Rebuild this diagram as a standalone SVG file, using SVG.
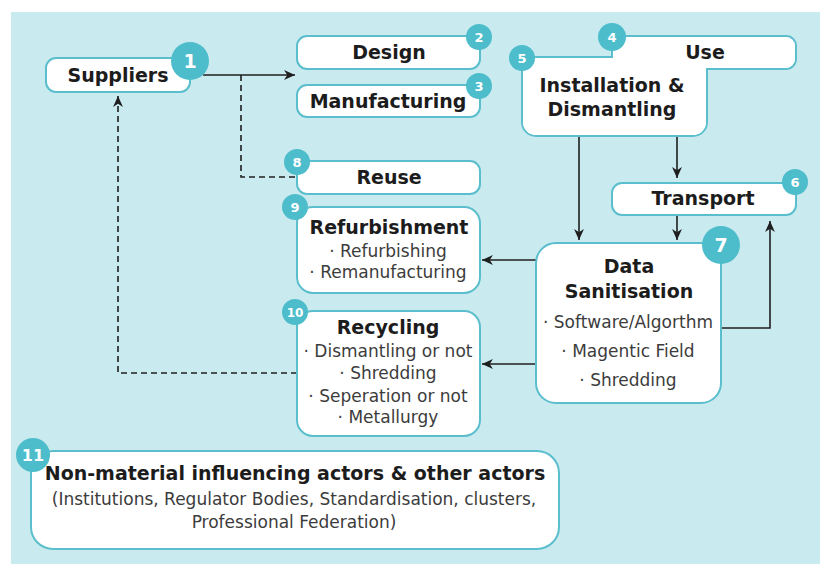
<svg xmlns="http://www.w3.org/2000/svg" width="820" height="564" viewBox="0 0 820 564">
  <style>
    .box { fill: #ffffff; stroke: #5bbecc; stroke-width: 2; }
    .edge { fill: #ffffff; stroke: none; }
    .badge { fill: #4dbdcb; }
    .badge-t { fill: #ffffff; font-family: "DejaVu Sans", "Liberation Sans", sans-serif; font-weight: 700; text-anchor: middle; }
    .title { fill: #1c1c1c; font-family: "DejaVu Sans", "Liberation Sans", sans-serif; font-weight: 700; font-size: 19px; text-anchor: middle; }
    .item { fill: #3c3c3c; font-family: "DejaVu Sans", "Liberation Sans", sans-serif; font-weight: 400; font-size: 17px; text-anchor: middle; }
    .link { fill: none; stroke: #1f1f1f; stroke-width: 1.6; }
    .dashed { stroke-dasharray: 6 4; }
  </style>
  <defs>
    <marker id="arrow" viewBox="0 0 10 10" refX="10" refY="5" markerWidth="11" markerHeight="11" markerUnits="userSpaceOnUse" orient="auto">
      <path d="M0,0.5 L10,5 L0,9.5 L3,5 z" fill="#1f1f1f"/>
    </marker>
  </defs>

  <!-- panel -->
  <rect x="11" y="12" width="809" height="552" fill="#c9eaef"/>

  <!-- connectors -->
  <g id="connectors">
    <path class="link" d="M203,75 H295" marker-end="url(#arrow)"/>
    <path class="link dashed" d="M241,75 V177 H297"/>
    <path class="link dashed" d="M297,373 H118 V96" marker-end="url(#arrow)"/>
    <path class="link" d="M579,136 V240" marker-end="url(#arrow)"/>
    <path class="link" d="M677,136 V178" marker-end="url(#arrow)"/>
    <path class="link" d="M677,215 V240" marker-end="url(#arrow)"/>
    <path class="link" d="M721,328 H770 V221" marker-end="url(#arrow)"/>
    <path class="link" d="M536,260 H482" marker-end="url(#arrow)"/>
    <path class="link" d="M536,364 H482" marker-end="url(#arrow)"/>
  </g>

  <!-- 1 Suppliers -->
  <g id="suppliers">
    <rect class="box" x="46" y="58" width="144" height="34" rx="10"/>
    <text class="title" x="118" y="82">Suppliers</text>
    <circle class="badge" cx="190" cy="61" r="19"/>
    <text class="badge-t" x="190" y="68" font-size="19">1</text>
  </g>

  <!-- 2 Design -->
  <g id="design">
    <rect class="box" x="297" y="36" width="183" height="33" rx="10"/>
    <text class="title" x="389" y="59">Design</text>
    <circle class="badge" cx="479" cy="37" r="13"/>
    <text class="badge-t" x="479" y="42" font-size="13">2</text>
  </g>

  <!-- 3 Manufacturing -->
  <g id="manufacturing">
    <rect class="box" x="297" y="85" width="183" height="32" rx="10"/>
    <text class="title" x="388" y="108">Manufacturing</text>
    <circle class="badge" cx="479" cy="86" r="13"/>
    <text class="badge-t" x="479" y="91" font-size="13">3</text>
  </g>

  <!-- 4 Use + 5 Installation & Dismantling (merged outline) -->
  <g id="use">
    <rect class="box" x="612" y="36" width="184" height="33" rx="10"/>
  </g>
  <g id="installation">
    <rect class="box" x="522" y="57" width="185" height="79" rx="14"/>
    <rect class="edge" x="613" y="37" width="182" height="31" rx="9"/>
    <rect class="edge" x="523" y="58" width="183" height="77" rx="13"/>
    <text class="title" x="612" y="92">Installation &amp;</text>
    <text class="title" x="612" y="116">Dismantling</text>
    <circle class="badge" cx="522" cy="58" r="13"/>
    <text class="badge-t" x="522" y="63" font-size="13">5</text>
  </g>
  <g id="use-label">
    <text class="title" x="705" y="59">Use</text>
    <circle class="badge" cx="612" cy="37" r="14"/>
    <text class="badge-t" x="612" y="42" font-size="13">4</text>
  </g>

  <!-- 6 Transport -->
  <g id="transport">
    <rect class="box" x="612" y="183" width="184" height="32" rx="10"/>
    <text class="title" x="703" y="205">Transport</text>
    <circle class="badge" cx="795" cy="182" r="13"/>
    <text class="badge-t" x="795" y="187" font-size="13">6</text>
  </g>

  <!-- 7 Data Sanitisation -->
  <g id="data-sanitisation">
    <rect class="box" x="536" y="243" width="185" height="160" rx="20"/>
    <text class="title" x="629" y="273">Data</text>
    <text class="title" x="629" y="298">Sanitisation</text>
    <text class="item" x="628" y="328">· Software/Algorthm</text>
    <text class="item" x="628" y="357">· Magentic Field</text>
    <text class="item" x="628" y="386">· Shredding</text>
    <circle class="badge" cx="721" cy="245" r="19"/>
    <text class="badge-t" x="721" y="252" font-size="19">7</text>
  </g>

  <!-- 8 Reuse -->
  <g id="reuse">
    <rect class="box" x="297" y="161" width="183" height="33" rx="10"/>
    <text class="title" x="389" y="184">Reuse</text>
    <circle class="badge" cx="297" cy="162" r="13"/>
    <text class="badge-t" x="297" y="167" font-size="13">8</text>
  </g>

  <!-- 9 Refurbishment -->
  <g id="refurbishment">
    <rect class="box" x="297" y="207" width="183" height="86" rx="16"/>
    <text class="title" x="389" y="234">Refurbishment</text>
    <text class="item" x="388" y="257">· Refurbishing</text>
    <text class="item" x="388" y="278">· Remanufacturing</text>
    <circle class="badge" cx="295" cy="207" r="13"/>
    <text class="badge-t" x="295" y="212" font-size="13">9</text>
  </g>

  <!-- 10 Recycling -->
  <g id="recycling">
    <rect class="box" x="297" y="311" width="183" height="125" rx="16"/>
    <text class="title" x="388" y="334">Recycling</text>
    <text class="item" x="388" y="357">· Dismantling or not</text>
    <text class="item" x="388" y="379">· Shredding</text>
    <text class="item" x="388" y="402">· Seperation or not</text>
    <text class="item" x="388" y="423">· Metallurgy</text>
    <circle class="badge" cx="295" cy="312" r="13"/>
    <text class="badge-t" x="295" y="317" font-size="12">10</text>
  </g>

  <!-- 11 Non-material actors -->
  <g id="other-actors">
    <rect class="box" x="31" y="451" width="528" height="98" rx="22"/>
    <text class="title" x="295" y="480" font-size="18">Non-material influencing actors &amp; other actors</text>
    <text class="item" x="294" y="505">(Institutions, Regulator Bodies, Standardisation, clusters,</text>
    <text class="item" x="294" y="528">Professional Federation)</text>
    <circle class="badge" cx="33" cy="455" r="17"/>
    <text class="badge-t" x="33" y="461" font-size="16">11</text>
  </g>
</svg>
